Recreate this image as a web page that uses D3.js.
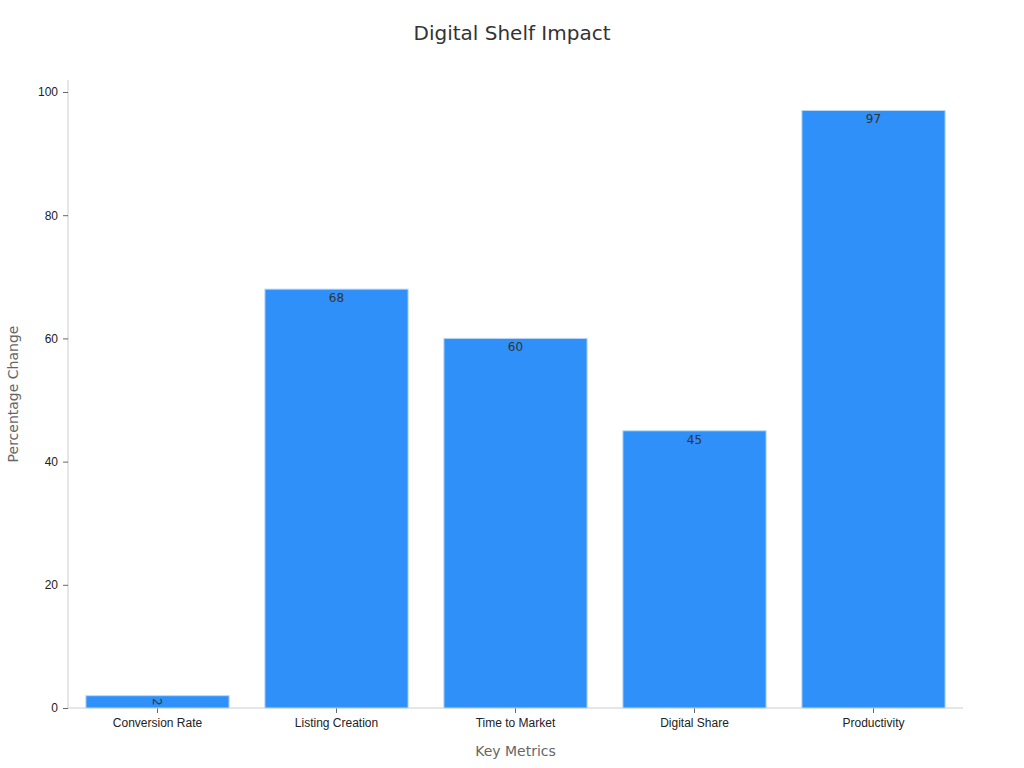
<!DOCTYPE html>
<html><head><meta charset="utf-8">
<script src="https://cdn.jsdelivr.net/npm/d3@7"></script>
<style>body{margin:0;background:#fff;font-family:"DejaVu Sans",sans-serif}</style>
</head><body>
<svg id="chart" width="1024" height="768"></svg>
<script>
const categories = ["Conversion Rate", "Listing Creation", "Time to Market", "Digital Share", "Productivity"];
const values = [2, 68, 60, 45, 97];
const yTicks = [0, 20, 40, 60, 80, 100];

const margin = {left: 68, right: 61, top: 80, bottom: 60};
const width = 1024, height = 768;
const svg = d3.select("#chart");

const x = d3.scaleBand().domain(categories).range([margin.left, width - margin.right]).paddingInner(0.2).paddingOuter(0.1);
const y = d3.scaleLinear().domain([0, 100]).range([708, 92]);

svg.append("text").attr("x", 512).attr("y", 40).attr("text-anchor", "middle")
  .attr("font-size", 20).attr("fill", "#333").text("Digital Shelf Impact");

const yAxis = svg.append("g").attr("transform", `translate(${margin.left},0)`)
  .call(d3.axisLeft(y).tickValues(yTicks).tickSize(5).tickPadding(5));
yAxis.select(".domain").attr("d", `M-0,80V708`).attr("stroke", "#ccc");
yAxis.selectAll(".tick line").attr("stroke", "#666");
yAxis.selectAll("text").attr("font-size", 12).attr("fill", "#222");

const xAxis = svg.append("g").attr("transform", "translate(0,708)")
  .call(d3.axisBottom(x).tickSize(5).tickPadding(5));
xAxis.select(".domain").attr("d", `M${margin.left},0H${width - margin.right}`).attr("stroke", "#ccc");
xAxis.selectAll(".tick line").attr("stroke", "#666");
xAxis.selectAll("text").attr("font-size", 12).attr("fill", "#222");

svg.selectAll("rect.bar").data(values).join("rect").attr("class", "bar")
  .attr("x", (d, i) => x(categories[i])).attr("width", x.bandwidth())
  .attr("y", d => y(d)).attr("height", d => y(0) - y(d))
  .attr("fill", "#2e90f8").attr("stroke", "#bcd8f5").attr("stroke-width", 1);

svg.selectAll("text.lbl").data(values).join("text").attr("class", "lbl")
  .attr("font-size", 12).attr("fill", "#333").attr("text-anchor", "middle")
  .attr("transform", (d, i) => {
    const cx = x(categories[i]) + x.bandwidth() / 2;
    return d < 5 ? `translate(${cx},${(y(d) + y(0)) / 2}) rotate(90)` : `translate(${cx},${y(d) + 13})`;
  })
  .attr("dy", (d) => d < 5 ? "0.35em" : 0)
  .text(d => d);

svg.append("text").attr("x", (margin.left + width - margin.right) / 2).attr("y", 756)
  .attr("text-anchor", "middle").attr("font-size", 14).attr("fill", "#666").text("Key Metrics");
svg.append("text").attr("transform", `translate(18,394) rotate(-90)`)
  .attr("text-anchor", "middle").attr("font-size", 14).attr("fill", "#666").text("Percentage Change");
</script>
</body></html>
